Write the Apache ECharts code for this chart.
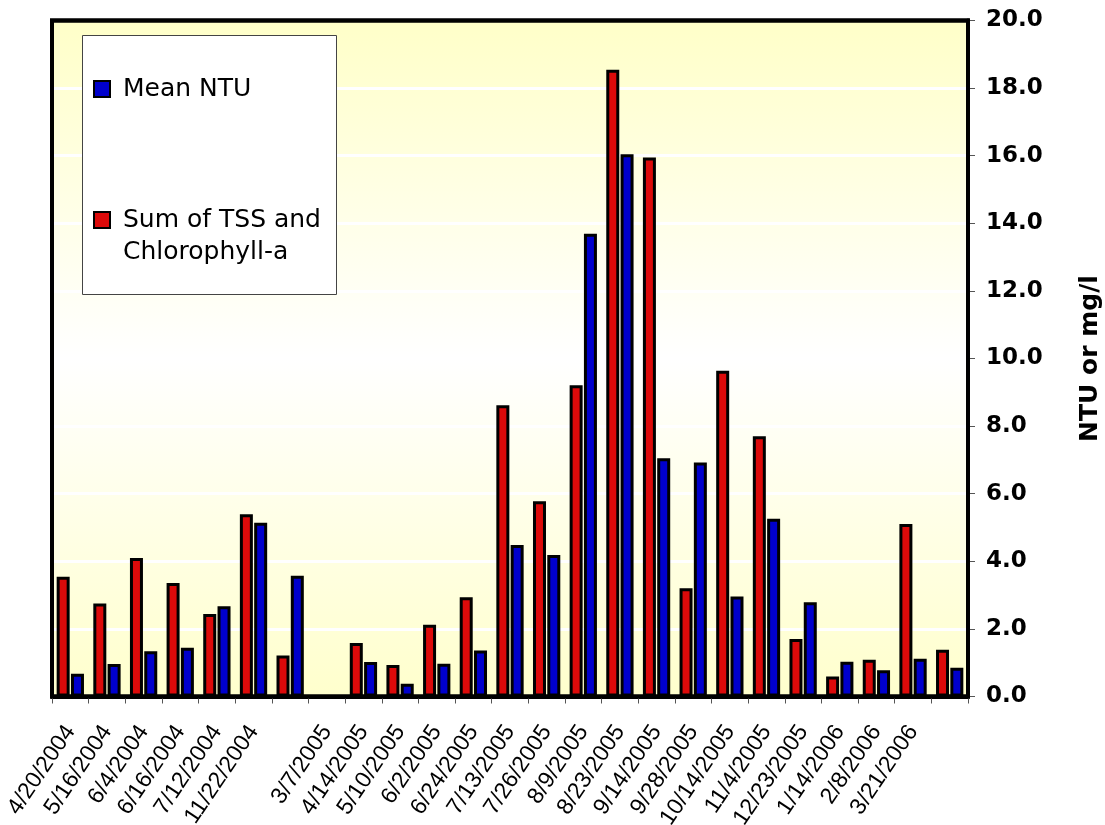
<!DOCTYPE html>
<html>
<head>
<meta charset="utf-8">
<title>Mean NTU and Sum of TSS and Chlorophyll-a</title>
<script src="https://cdn.jsdelivr.net/npm/echarts@6/dist/echarts.min.js"></script>
<style>
  html, body { margin: 0; padding: 0; background: #ffffff; }
  #chart { width: 1105px; height: 825px; }
</style>
</head>
<body>
<div id="chart"></div>
<script>
// Sampling dates (two unlabeled slots keep their bars)
const categories = [
  '4/20/2004', '5/16/2004', '6/4/2004', '6/16/2004', '7/12/2004', '11/22/2004', '',
  '3/7/2005', '4/14/2005', '5/10/2005', '6/2/2005', '6/24/2005', '7/13/2005',
  '7/26/2005', '8/9/2005', '8/23/2005', '9/14/2005', '9/28/2005', '10/14/2005',
  '11/4/2005', '12/23/2005', '1/14/2006', '2/8/2006', '3/21/2006', ''
];

// Sum of TSS and Chlorophyll-a (mg/l)
const sumTssChl = [
  3.54, 2.75, 4.10, 3.36, 2.44, 5.39, 1.21,
  null, 1.58, 0.93, 2.12, 2.94, 8.62,
  5.78, 9.21, 18.54, 15.95, 3.20, 9.64,
  7.70, 1.70, 0.59, 1.09, 5.10, 1.38
];

// Mean turbidity (NTU)
const meanNtu = [
  0.67, 0.96, 1.34, 1.44, 2.67, 5.14, 3.57,
  null, 1.02, 0.38, 0.97, 1.36, 4.48,
  4.19, 13.69, 16.04, 7.05, 6.92, 2.96,
  5.26, 2.79, 1.03, 0.78, 1.12, 0.85
];

const yTicks = { min: 0, max: 20, interval: 2 };

const NAME_NTU = 'Mean NTU';
const NAME_SUM = 'Sum of TSS and Chlorophyll-a';

// plot frame in pixels
const PLOT = { left: 52, right: 968, top: 20.5, bottom: 696.5 };

const chart = echarts.init(document.getElementById('chart'), null, { renderer: 'canvas' });

const legendText = {
  color: '#000',
  fontFamily: 'DejaVu Sans',
  fontSize: 25,
  lineHeight: 32
};

chart.setOption({
  animation: false,
  backgroundColor: '#ffffff',
  grid: {
    left: PLOT.left,
    right: 1105 - PLOT.right,
    top: PLOT.top,
    bottom: 825 - PLOT.bottom,
    outerBoundsMode: 'none',
    containLabel: false,
    show: true,
    borderColor: '#000',
    borderWidth: 4,
    backgroundColor: {
      type: 'linear', x: 0, y: 0, x2: 0, y2: 1,
      colorStops: [
        { offset: 0, color: '#ffffc8' },
        { offset: 0.5, color: '#ffffff' },
        { offset: 1, color: '#ffffcc' }
      ]
    }
  },
  graphic: [
    {
      // heavy frame around the plot area
      type: 'rect',
      shape: {
        x: PLOT.left, y: PLOT.top,
        width: PLOT.right - PLOT.left, height: PLOT.bottom - PLOT.top
      },
      style: { fill: null, stroke: '#000', lineWidth: 4 },
      z: 20,
      silent: true
    },
    {
      // legend box
      type: 'rect',
      shape: { x: 82.5, y: 35.5, width: 254, height: 259 },
      style: { fill: '#ffffff', stroke: '#444', lineWidth: 1 },
      z: 10
    }
  ],
  legend: [
    {
      data: [NAME_NTU],
      orient: 'vertical',
      left: 88,
      top: 68,
      itemWidth: 16,
      itemHeight: 16,
      icon: 'rect',
      selectedMode: false,
      formatter: function (n) { return ' ' + n; },
      textStyle: legendText,
      z: 11
    },
    {
      data: [NAME_SUM],
      orient: 'vertical',
      left: 88,
      top: 167,
      itemWidth: 16,
      itemHeight: 16,
      icon: 'rect',
      selectedMode: false,
      formatter: function () { return '\n Sum of TSS and\n Chlorophyll-a'; },
      textStyle: legendText,
      z: 11
    }
  ],
  xAxis: {
    type: 'category',
    data: categories,
    boundaryGap: true,
    axisLine: { show: true, lineStyle: { color: '#000', width: 4 } },
    axisTick: {
      show: true,
      interval: 0,
      alignWithLabel: false,
      length: 7,
      lineStyle: { color: '#555', width: 1 }
    },
    axisLabel: {
      interval: 0,
      rotate: 56,
      margin: 31,
      color: '#000',
      fontFamily: 'Liberation Sans, Arial, sans-serif',
      fontSize: 23
    },
    splitLine: { show: false }
  },
  yAxis: {
    type: 'value',
    position: 'right',
    min: yTicks.min,
    max: yTicks.max,
    interval: yTicks.interval,
    name: 'NTU or mg/l',
    nameLocation: 'middle',
    nameRotate: 90,
    nameGap: 110,
    nameTextStyle: {
      color: '#000',
      fontFamily: 'DejaVu Sans',
      fontWeight: 'bold',
      fontSize: 25
    },
    axisLine: { show: true, lineStyle: { color: '#000', width: 4 } },
    axisTick: { show: true, length: 7, lineStyle: { color: '#555', width: 1 } },
    axisLabel: {
      margin: 18,
      color: '#000',
      fontFamily: 'DejaVu Sans',
      fontWeight: 'bold',
      fontSize: 23,
      formatter: function (v) { return v.toFixed(1); }
    },
    splitLine: {
      show: true,
      showMinLine: false,
      showMaxLine: false,
      lineStyle: { color: '#ffffff', width: 3 }
    }
  },
  series: [
    {
      name: NAME_SUM,
      type: 'bar',
      data: sumTssChl,
      barWidth: 13,
      barGap: '10%',
      itemStyle: { color: '#dc0a0a', borderColor: '#000', borderWidth: 3 }
    },
    {
      name: NAME_NTU,
      type: 'bar',
      data: meanNtu,
      barWidth: 13,
      barGap: '10%',
      itemStyle: { color: '#0000cc', borderColor: '#000', borderWidth: 3 }
    }
  ]
});
</script>
</body>
</html>
